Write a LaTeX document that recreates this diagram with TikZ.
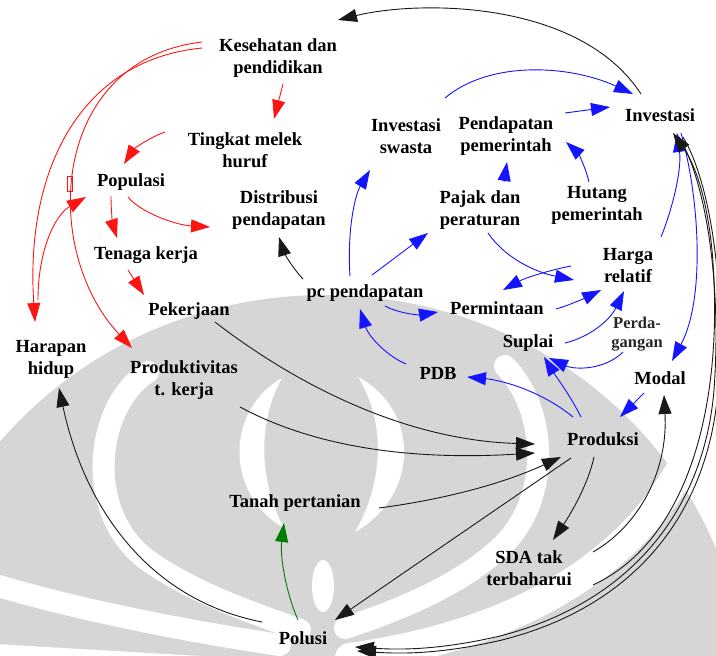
\documentclass[tikz,border=0pt]{standalone}
\usepackage{fontspec}
\setmainfont{Liberation Serif}
\usetikzlibrary{arrows.meta,calc}

\definecolor{wmgrey}{RGB}{214,214,214}
\definecolor{linkred}{RGB}{255,20,20}
\definecolor{linkblue}{RGB}{20,20,255}
\definecolor{linkgreen}{RGB}{0,125,0}

\begin{document}
\begin{tikzpicture}[x=1pt,y=-1pt,
  lbl/.style={font=\fontsize{18.5}{22}\selectfont\bfseries, align=center, inner sep=0pt, text=black},
  lblsmall/.style={font=\fontsize{16.5}{19}\selectfont\bfseries, align=center, inner sep=0pt, text=black!85},
  tipped/.style={-{Triangle[length=19pt,width=13pt]}, line width=0.9pt},
  redlink/.style={tipped, draw=linkred},
  bluelink/.style={tipped, draw=linkblue},
  blacklink/.style={tipped, draw=black!90},
  greenlink/.style={tipped, draw=linkgreen},
  band/.style={draw=white, line cap=round},
]
\useasboundingbox (0,0) rectangle (716,656);

% ---- background emblem ----
\begin{scope}
  \clip (0,0) rectangle (716,656);
  \fill[wmgrey] (325,695) ellipse [x radius=420, y radius=400];
  \draw[band, line width=22pt] (148,372) .. controls (95,405) and (82,515) .. (150,562)
        .. controls (195,593) and (245,610) .. (300,630);
  \draw[band, line width=22pt] (505,366) .. controls (548,410) and (552,500) .. (500,548)
        .. controls (460,585) and (400,610) .. (345,628);
  \fill[white] (282,378) .. controls (225,410) and (225,495) .. (284,528)
        .. controls (258,480) and (258,420) .. (282,378);
  \fill[white] (358,377) .. controls (420,410) and (420,495) .. (355,532)
        .. controls (385,480) and (385,420) .. (358,377);
  \fill[white] (323,586) ellipse [x radius=11, y radius=26];
  \draw[band, line width=30pt] (722,320) .. controls (716,470) and (620,620) .. (350,658);
  \draw[band, line width=22pt] (-5,585) .. controls (80,610) and (180,630) .. (280,645);
  \draw[band, line width=16pt] (-5,652) -- (200,664);
\end{scope}

% ---- variables ----
\node[lbl] (kes)  at (278,58)  {Kesehatan dan\\pendidikan};
\node[lbl] (tmh)  at (245,150) {Tingkat melek\\huruf};
\node[lbl] (pop)  at (131,182) {Populasi};
\node[lbl] (dist) at (279,210) {Distribusi\\pendapatan};
\node[lbl] (tk)   at (146,255) {Tenaga kerja};
\node[lbl] (pek)  at (189,311) {Pekerjaan};
\node[lbl] (hh)   at (51,359)  {Harapan\\hidup};
\node[lbl] (ptk)  at (184,380) {Produktivitas\\t. kerja};
\node[lbl] (pc)   at (365,293) {pc pendapatan};
\node[lbl] (is)   at (406,136) {Investasi\\swasta};
\node[lbl] (pp)   at (506,136) {Pendapatan\\pemerintah};
\node[lbl] (inv)  at (660,115) {Investasi};
\node[lbl] (pjk)  at (480,210) {Pajak dan\\peraturan};
\node[lbl] (hut)  at (597,205) {Hutang\\pemerintah};
\node[lbl] (hr)   at (628,266) {Harga\\relatif};
\node[lbl] (per)  at (497,308) {Permintaan};
\node[lbl] (sup)  at (528,343) {Suplai};
\node[lblsmall] (dag) at (637,334) {Perda-\\gangan};
\node[lbl] (pdb)  at (438,373) {PDB};
\node[lbl] (mod)  at (660,378) {Modal};
\node[lbl] (prod) at (603,439) {Produksi};
\node[lbl] (tp)   at (295,503) {Tanah pertanian};
\node[lbl] (sda)  at (529,568) {SDA tak\\terbaharui};
\node[lbl] (pol)  at (303,638) {Polusi};

% ---- red links ----
\draw[redlink] ($(kes.center)+(5,26)$) -- ($(tmh.center)+(29,-31)$);
\draw[redlink] ($(tmh.center)+(-80,-18)$) .. controls (148,138) and (133,150) .. ($(pop.center)+(-7,-18)$);
\draw[redlink] ($(pop.center)+(-20,14)$) .. controls (111,212) and (113,225) .. ($(tk.center)+(-29,-17)$);
\draw[redlink] ($(pop.center)+(-3,15)$) .. controls (140,212) and (175,225) .. ($(dist.center)+(-69,17)$);
\draw[redlink] ($(tk.center)+(-18,15)$) -- ($(pek.center)+(-45,-16)$);
\draw[redlink] ($(kes.center)+(-76,-10)$) .. controls (80,60) and (25,170) .. ($(hh.center)+(-16,-37)$);
\draw[redlink] ($(kes.center)+(-76,-16)$) .. controls (50,60) and (40,250) .. ($(ptk.center)+(-52,-32)$);
\draw[redlink] ($(hh.center)+(-13,-59)$) .. controls (38,250) and (55,215) .. ($(pop.center)+(-45,15)$);
\draw[linkred, line width=0.9pt] (67,176) rectangle (72,191);

% ---- blue links ----
\draw[bluelink] ($(pc.center)+(-15,-17)$) .. controls (347,230) and (355,195) .. ($(is.center)+(-36,34)$);
\draw[bluelink] ($(pc.center)+(7,-18)$) -- ($(pjk.center)+(-52,23)$);
\draw[bluelink] ($(pc.center)+(20,13)$) .. controls (400,314) and (420,315) .. ($(per.center)+(-59,4)$);
\draw[bluelink] ($(is.center)+(39,-38)$) .. controls (490,60) and (570,65) .. ($(inv.center)+(-27,-21)$);
\draw[bluelink] ($(pp.center)+(59,-23)$) -- ($(inv.center)+(-50,-8)$);
\draw[bluelink] ($(pjk.center)+(24,-28)$) -- ($(pp.center)+(1,26)$);
\draw[bluelink] ($(hut.center)+(-8,-23)$) .. controls (585,165) and (577,152) .. ($(pp.center)+(60,6)$);
\draw[bluelink] ($(pjk.center)+(8,23)$) .. controls (505,258) and (535,272) .. ($(hr.center)+(-54,14)$);
\draw[bluelink] ($(hr.center)+(-57,0)$) .. controls (550,270) and (525,278) .. ($(per.center)+(6,-18)$);
\draw[bluelink] ($(per.center)+(59,1)$) .. controls (570,305) and (585,298) .. ($(hr.center)+(-27,24)$);
\draw[bluelink] ($(sup.center)+(37,0)$) .. controls (590,337) and (610,320) .. ($(hr.center)+(-4,25)$);
\draw[bluelink] ($(dag.center)+(-14,18)$) .. controls (605,370) and (575,370) .. ($(sup.center)+(21,15)$);
\draw[bluelink] ($(prod.center)+(-30,-22)$) .. controls (540,390) and (500,380) .. ($(pdb.center)+(29,4)$);
\draw[bluelink] ($(prod.center)+(-22,-22)$) .. controls (570,395) and (555,375) .. ($(sup.center)+(16,14)$);
\draw[bluelink] ($(mod.center)+(-16,15)$) -- ($(prod.center)+(17,-22)$);
\draw[bluelink] ($(pdb.center)+(-32,-9)$) .. controls (385,355) and (368,335) .. ($(pc.center)+(-5,16)$);
\draw[bluelink] ($(inv.center)+(21,18)$) .. controls (700,200) and (705,300) .. ($(mod.center)+(12,-17)$);
\draw[bluelink] ($(hr.center)+(33,-29)$) .. controls (672,210) and (682,170) .. ($(inv.center)+(17,18)$);

% ---- black links ----
\draw[blacklink] ($(inv.center)+(-19,-21)$) .. controls (580,0) and (420,0) .. ($(kes.center)+(60,-38)$);
\draw[blacklink] ($(pc.center)+(-62,-14)$) .. controls (290,265) and (283,250) .. ($(dist.center)+(0,27)$);
\draw[blacklink] ($(pek.center)+(26,11)$) .. controls (290,380) and (400,440) .. ($(prod.center)+(-68,5)$);
\draw[blacklink] ($(ptk.center)+(56,27)$) .. controls (320,450) and (420,460) .. ($(prod.center)+(-68,14)$);
\draw[blacklink] ($(tp.center)+(84,5)$) .. controls (440,500) and (500,485) .. ($(prod.center)+(-42,18)$);
\draw[blacklink] ($(prod.center)+(-32,19)$) -- ($(pol.center)+(32,-18)$);
\draw[blacklink] ($(prod.center)+(-9,18)$) .. controls (588,485) and (570,515) .. ($(sda.center)+(24,-28)$);
\draw[blacklink] ($(sda.center)+(64,-16)$) .. controls (640,525) and (668,470) .. ($(mod.center)+(4,17)$);
\draw[blacklink] ($(sda.center)+(64,17)$) .. controls (690,540) and (725,400) .. (712,250)
      .. controls (706,190) and (692,160) .. ($(inv.center)+(13,18)$);
\draw[blacklink] ($(inv.center)+(19,22)$) .. controls (705,180) and (722,280) .. (714,390)
      .. controls (705,500) and (640,600) .. (500,636) .. controls (440,650) and (400,650) .. ($(pol.center)+(52,9)$);
\draw[blacklink] ($(inv.center)+(23,22)$) .. controls (709,180) and (726,280) .. (718,390)
      .. controls (709,504) and (644,604) .. (502,640) .. controls (442,654) and (402,654) .. ($(pol.center)+(54,13)$);
\draw[blacklink] ($(pol.center)+(-41,-16)$) .. controls (150,600) and (85,510) .. ($(hh.center)+(8,29)$);

% ---- green link ----
\draw[greenlink] ($(pol.center)+(-5,-18)$) .. controls (285,590) and (280,555) .. ($(tp.center)+(-11,20)$);
\end{tikzpicture}
\end{document}
